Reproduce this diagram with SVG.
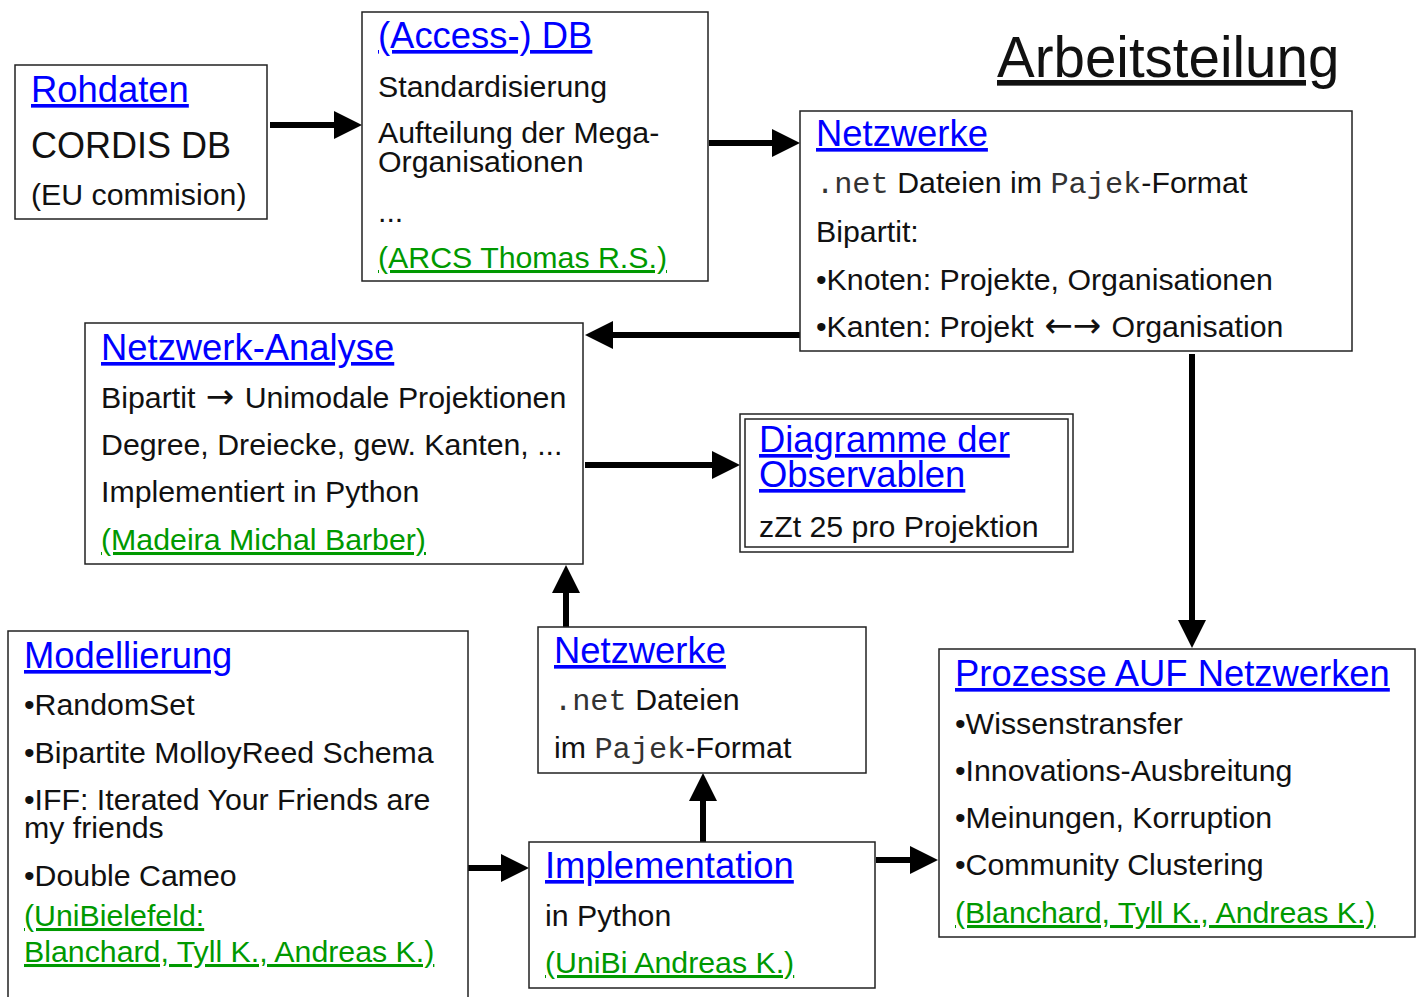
<svg xmlns="http://www.w3.org/2000/svg" width="1420" height="997" viewBox="0 0 1420 997">
  <style>
    text { font-family: "Liberation Sans", Arial, sans-serif; fill: #111; }
    .t { font-size: 30.3px; }
    .h { font-size: 36.4px; fill: #0000ff; text-decoration: underline; }
    .who { font-size: 30.3px; fill: #009900; text-decoration: underline; }
    .mono { font-family: "Liberation Mono", "Courier New", monospace; fill: #333; }
    .arw { font-family: "DejaVu Sans", sans-serif; font-size: 34px; }
    .box { fill: #fff; stroke: #222; stroke-width: 1.5; }
    .conn { stroke: #000; stroke-width: 6; fill: none; }
  </style>
  <defs>
    <marker id="arrow" markerUnits="userSpaceOnUse" markerWidth="28" markerHeight="28" viewBox="0 0 28 28" refX="4" refY="14" orient="auto">
      <path d="M0,0 L28,14 L0,28 z" fill="#000"/>
    </marker>
  </defs>
  <rect width="1420" height="997" fill="#fff"/>

  <!-- title -->
  <text x="997" y="77" style="font-size:56.5px;text-decoration:underline">Arbeitsteilung</text>

  <!-- connectors -->
  <g id="connectors">
    <line class="conn" x1="270" y1="125" x2="338" y2="125" marker-end="url(#arrow)"/>
    <line class="conn" x1="709" y1="143" x2="776" y2="143" marker-end="url(#arrow)"/>
    <line class="conn" x1="800" y1="335" x2="609" y2="335" marker-end="url(#arrow)"/>
    <line class="conn" x1="1192" y1="354" x2="1192" y2="624" marker-end="url(#arrow)"/>
    <line class="conn" x1="585" y1="465" x2="716" y2="465" marker-end="url(#arrow)"/>
    <line class="conn" x1="566" y1="627" x2="566" y2="589" marker-end="url(#arrow)"/>
    <line class="conn" x1="703" y1="842" x2="703" y2="797" marker-end="url(#arrow)"/>
    <line class="conn" x1="468" y1="868" x2="505" y2="868" marker-end="url(#arrow)"/>
    <line class="conn" x1="876" y1="860" x2="914" y2="860" marker-end="url(#arrow)"/>
  </g>

  <g id="rohdaten">
    <rect class="box" x="15" y="65" width="252" height="154"/>
    <text class="h" x="31" y="102">Rohdaten</text>
    <text x="31" y="158" style="font-size:36px">CORDIS DB</text>
    <text class="t" x="31" y="205">(EU commision)</text>
  </g>

  <g id="access-db">
    <rect class="box" x="362" y="12" width="346" height="269"/>
    <text class="h" x="378" y="48">(Access-) DB</text>
    <text class="t" x="378" y="97">Standardisierung</text>
    <text class="t" x="378" y="143">Aufteilung der Mega-</text>
    <text class="t" x="378" y="172">Organisationen</text>
    <text class="t" x="378" y="222">...</text>
    <text class="who" x="378" y="268">(ARCS Thomas R.S.)</text>
  </g>

  <g id="netzwerke-bipartit">
    <rect class="box" x="800" y="111" width="552" height="240"/>
    <text class="h" x="816" y="146">Netzwerke</text>
    <text class="t" x="816" y="193"><tspan class="mono">.net</tspan> Dateien im <tspan class="mono">Pajek</tspan>-Format</text>
    <text class="t" x="816" y="242">Bipartit:</text>
    <text class="t" x="816" y="290">•Knoten: Projekte, Organisationen</text>
    <text class="t" x="816" y="337">•Kanten: Projekt <tspan class="arw" dx="2">←→</tspan><tspan dx="2"> Organisation</tspan></text>
  </g>

  <g id="netzwerk-analyse">
    <rect class="box" x="85" y="323" width="498" height="241"/>
    <text class="h" x="101" y="360">Netzwerk-Analyse</text>
    <text class="t" x="101" y="408">Bipartit <tspan class="arw" dx="2">→</tspan><tspan dx="2"> Unimodale Projektionen</tspan></text>
    <text class="t" x="101" y="455">Degree, Dreiecke, gew. Kanten, ...</text>
    <text class="t" x="101" y="502">Implementiert in Python</text>
    <text class="who" x="101" y="550">(Madeira Michal Barber)</text>
  </g>

  <g id="diagramme">
    <rect class="box" x="740" y="414" width="333" height="138"/>
    <rect class="box" x="745" y="419" width="323" height="128"/>
    <text class="h" x="759" y="452">Diagramme der</text>
    <text class="h" x="759" y="487">Observablen</text>
    <text class="t" x="759" y="537">zZt 25 pro Projektion</text>
  </g>

  <g id="modellierung">
    <rect class="box" x="8" y="631" width="460" height="420"/>
    <text class="h" x="24" y="668">Modellierung</text>
    <text class="t" x="24" y="715">•RandomSet</text>
    <text class="t" x="24" y="763">•Bipartite MolloyReed Schema</text>
    <text class="t" x="24" y="810">•IFF: Iterated Your Friends are</text>
    <text class="t" x="24" y="838">my friends</text>
    <text class="t" x="24" y="886">•Double Cameo</text>
    <text class="who" x="24" y="926">(UniBielefeld:</text>
    <text class="who" x="24" y="962">Blanchard, Tyll K., Andreas K.)</text>
  </g>

  <g id="netzwerke-dateien">
    <rect class="box" x="538" y="627" width="328" height="146"/>
    <text class="h" x="554" y="663">Netzwerke</text>
    <text class="t" x="554" y="710"><tspan class="mono">.net</tspan> Dateien</text>
    <text class="t" x="554" y="758">im <tspan class="mono">Pajek</tspan>-Format</text>
  </g>

  <g id="implementation">
    <rect class="box" x="529" y="842" width="346" height="146"/>
    <text class="h" x="545" y="878">Implementation</text>
    <text class="t" x="545" y="926">in Python</text>
    <text class="who" x="545" y="973">(UniBi Andreas K.)</text>
  </g>

  <g id="prozesse">
    <rect class="box" x="939" y="649" width="476" height="288"/>
    <text class="h" x="955" y="686">Prozesse AUF Netzwerken</text>
    <text class="t" x="955" y="734">•Wissenstransfer</text>
    <text class="t" x="955" y="781">•Innovations-Ausbreitung</text>
    <text class="t" x="955" y="828">•Meinungen, Korruption</text>
    <text class="t" x="955" y="875">•Community Clustering</text>
    <text class="who" x="955" y="923">(Blanchard, Tyll K., Andreas K.)</text>
  </g>
</svg>
